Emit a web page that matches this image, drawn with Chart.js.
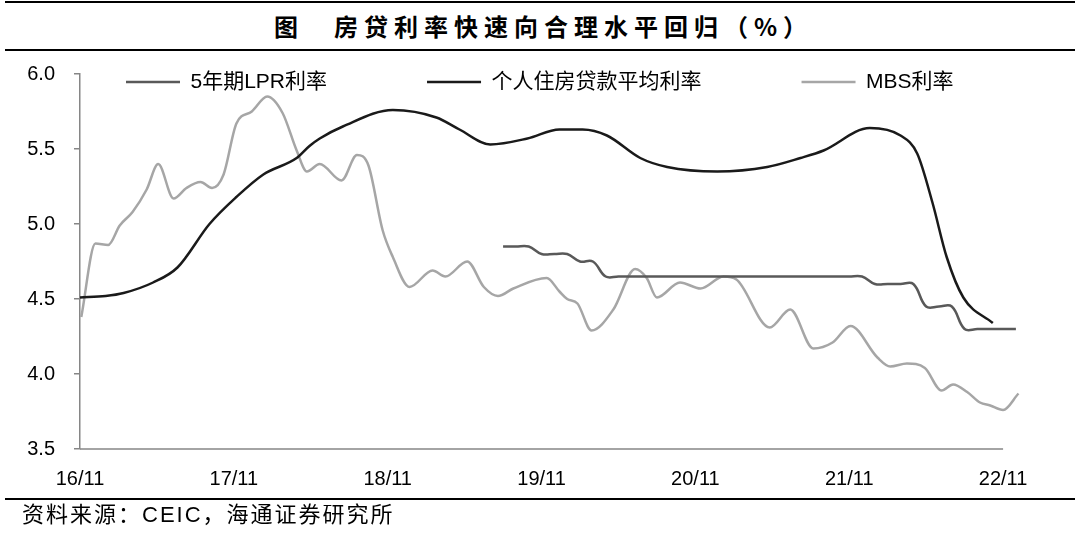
<!DOCTYPE html>
<html lang="zh-CN">
<head>
<meta charset="utf-8">
<title>房贷利率快速向合理水平回归</title>
<script src="https://cdn.jsdelivr.net/npm/chart.js@4.4.1/dist/chart.umd.min.js"></script>
<style>
  html, body { margin: 0; padding: 0; background: #fff; }
  #marco { position: relative; width: 1080px; height: 539px; overflow: hidden; }
  #grafico { position: absolute; left: 0; top: 0; }
  .regla { position: absolute; left: 5px; width: 1070px; background: #000; }
  #titulo { position: absolute; left: 274px; top: 8px; font: bold 24px 'Noto Sans CJK SC', sans-serif;
            letter-spacing: 6px; line-height: 36px; white-space: nowrap; color: #000; }
  #fuente { position: absolute; left: 22px; top: 500px; font: 22px 'Liberation Sans', 'Noto Sans CJK SC', sans-serif;
            letter-spacing: 2px; line-height: 30px; white-space: nowrap; color: #000; }
</style>
</head>
<body>
<div id="marco">
  <div class="regla" style="top:1px;height:1.5px"></div>
  <div id="titulo">图　房贷利率快速向合理水平回归（%）</div>
  <div class="regla" style="top:49px;height:2px"></div>
  <canvas id="grafico" width="1080" height="539"></canvas>
  <div class="regla" style="top:498px;height:2px"></div>
  <div id="fuente">资料来源：CEIC，海通证券研究所</div>
</div>
<script>
// Eje x: meses contados desde 2016-11
const mesesTicks = [0, 12, 24, 36, 48, 60, 72];
const etiquetasTicks = ['16/11', '17/11', '18/11', '19/11', '20/11', '21/11', '22/11'];
const valoresY = [3.5, 4.0, 4.5, 5.0, 5.5, 6.0];

// 5年期LPR利率
const mesesLPR = [33, 34, 35, 36, 37, 38, 39, 40, 41, 42, 44, 46, 48, 50, 52, 54, 56, 58, 60, 61,
                  62, 63, 64, 65, 66, 67, 68, 69, 70, 71, 72, 73];
const tasaLPR = [4.85, 4.85, 4.85, 4.80, 4.80, 4.80, 4.75, 4.75, 4.65, 4.65, 4.65, 4.65, 4.65, 4.65, 4.65, 4.65, 4.65, 4.65, 4.65, 4.65,
                 4.60, 4.60, 4.60, 4.60, 4.45, 4.45, 4.45, 4.30, 4.30, 4.30, 4.30, 4.30];

// 个人住房贷款平均利率
const mesesVivienda = [0, 2, 3.4, 5.7, 7.6, 10.1, 12.2, 14.3, 16.9, 17.9, 18.7, 20.5, 24.4, 27.8, 29.6, 32, 34.9,
                       37.4, 39.2, 41.1, 43.7, 45.8, 49.7, 53.6, 56.2, 58, 61.6, 64, 65.3, 66.5, 67.6, 68.9, 71.2];
const tasaVivienda = [4.51, 4.52, 4.54, 4.61, 4.71, 5.00, 5.18, 5.33, 5.44, 5.52, 5.57, 5.65, 5.76, 5.71, 5.63, 5.53, 5.57,
                      5.63, 5.63, 5.59, 5.44, 5.38, 5.35, 5.38, 5.44, 5.49, 5.64, 5.59, 5.47, 5.14, 4.78, 4.51, 4.34];

// MBS利率
const mesesMBS = [0.1, 1.2, 2.2, 3.1, 4.1, 5.2, 6.1, 7.3, 8.3, 9.4, 10.3, 11.2, 12.2, 13.4, 14.6, 15.8, 16.9, 17.7,
                  18.7, 20.4, 21.6, 22.5, 23.6, 24.4, 25.7, 27.5, 28.5, 30.2, 31.5, 32.6, 33.8, 36.4, 37.4, 38.0, 38.8,
                  39.9, 41.6, 43.3, 44.2, 45.0, 46.8, 48.4, 50.2, 51.2, 53.8, 55.4, 57.2, 58.7, 60.1, 62.2, 63.2, 64.5,
                  65.9, 67.2, 68.1, 69.2, 70.2, 71.0, 72.0, 73.2];
const tasaMBS = [4.38, 4.87, 4.86, 4.99, 5.08, 5.23, 5.40, 5.17, 5.24, 5.28, 5.24, 5.33, 5.67, 5.75, 5.85, 5.74, 5.49, 5.35,
                 5.40, 5.29, 5.46, 5.39, 4.96, 4.78, 4.58, 4.69, 4.65, 4.75, 4.58, 4.52, 4.57, 4.64, 4.55, 4.50, 4.47,
                 4.29, 4.43, 4.70, 4.64, 4.51, 4.61, 4.57, 4.65, 4.63, 4.31, 4.43, 4.17, 4.21, 4.32, 4.11, 4.05, 4.07,
                 4.04, 3.89, 3.93, 3.88, 3.81, 3.79, 3.76, 3.87];

const fuenteTexto = "'Liberation Sans', 'Noto Sans CJK SC', sans-serif";

function puntos(meses, tasas) {
    return meses.map((m, i) => ({ x: m, y: tasas[i] }));
}

// Linea del eje x, solo hasta 22/11
const ejeX = {
    id: 'ejeX',
    afterLayout(chart) {
        // la leyenda va dentro del area del grafico: que no se recorte
        chart.legend.bottom = chart.height;
    },
    beforeDatasetsDraw(chart) {
        const { ctx, scales: { x, y } } = chart;
        ctx.save();
        ctx.strokeStyle = '#868686';
        ctx.lineWidth = 1.5;
        ctx.beginPath();
        ctx.moveTo(x.getPixelForValue(mesesTicks[0]), y.bottom);
        ctx.lineTo(x.getPixelForValue(mesesTicks[mesesTicks.length - 1]), y.bottom);
        ctx.stroke();
        ctx.restore();
    }
};

const ctx = document.getElementById('grafico').getContext('2d');

new Chart(ctx, {
    type: 'line',
    data: {
        datasets: [{
            label: '5年期LPR利率',
            data: puntos(mesesLPR, tasaLPR),
            borderColor: '#595959',
            borderWidth: 2.5,
            tension: 0.4
        }, {
            label: '个人住房贷款平均利率',
            data: puntos(mesesVivienda, tasaVivienda),
            borderColor: '#1a1a1a',
            borderWidth: 2.5,
            cubicInterpolationMode: 'monotone'
        }, {
            label: 'MBS利率',
            data: puntos(mesesMBS, tasaMBS),
            borderColor: '#a6a6a6',
            borderWidth: 2.5,
            cubicInterpolationMode: 'monotone'
        }]
    },
    options: {
        responsive: false,
        animation: false,
        devicePixelRatio: 1,
        elements: { point: { radius: 0 } },
        layout: { padding: { left: 26, top: -28.5, right: 0, bottom: 0 } },
        plugins: {
            tooltip: { enabled: false },
            legend: {
                position: 'top',
                align: 'start',
                maxHeight: 102.5,
                labels: {
                    usePointStyle: true,
                    pointStyle: 'line',
                    pointStyleWidth: 54,
                    padding: 100,
                    color: '#000',
                    font: { family: fuenteTexto, size: 21 }
                }
            }
        },
        scales: {
            x: {
                type: 'linear',
                min: 0,
                max: 78,
                afterBuildTicks: (s) => { s.ticks = mesesTicks.map(v => ({ value: v })); },
                afterFit: (s) => { s.height = 90; },
                grid: { display: false },
                border: { display: false },
                ticks: {
                    padding: 10,
                    maxRotation: 0,
                    color: '#000',
                    font: { family: fuenteTexto, size: 20 },
                    callback: (v, i) => etiquetasTicks[i]
                }
            },
            y: {
                min: valoresY[0],
                max: valoresY[valoresY.length - 1],
                afterBuildTicks: (s) => { s.ticks = valoresY.map(v => ({ value: v })); },
                afterFit: (s) => { s.width = 54; },
                grid: { drawOnChartArea: false, drawTicks: true, tickLength: 6, color: '#868686', lineWidth: 1.5 },
                border: { display: true, color: '#868686', width: 1.5 },
                ticks: {
                    padding: 19,
                    color: '#000',
                    font: { family: fuenteTexto, size: 20 },
                    callback: (v) => v.toFixed(1)
                }
            }
        }
    },
    plugins: [ejeX]
});
</script>
</body>
</html>
